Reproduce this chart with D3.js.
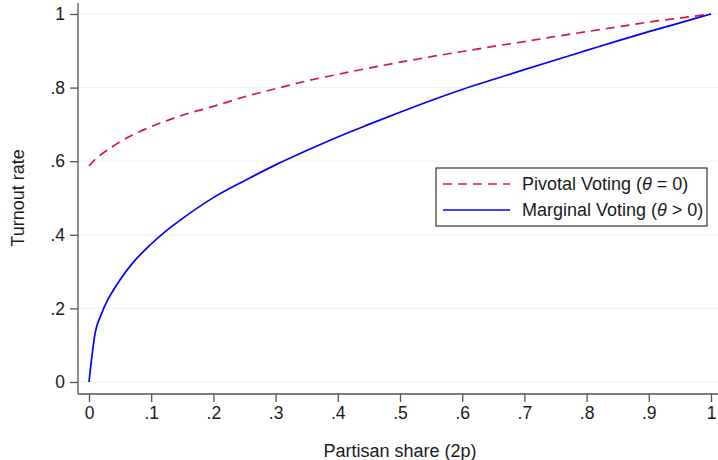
<!DOCTYPE html>
<html>
<head>
<meta charset="utf-8">
<script src="https://cdn.jsdelivr.net/npm/d3@7"></script>
<style>
  body { margin: 0; background: #fff; }
  text { font-family: "Liberation Sans", Arial, sans-serif; fill: #1a1a1a; }
</style>
</head>
<body>
<div id="chart"></div>
<script>
// values
let share = [0, .01, .02, .03, .04, .05, .07, .1, .125, .15, .2, .25, .3, .35, .4, .45, .5, .55, .6, .65, .7, .75, .8, .85, .9, .95, 1]
let pivotal = [.587, .605, .619, .631, .642, .653, .671, .694, .710, .725, .749, .775, .797, .818, .836, .853, .869, .884, .898, .912, .925, .939, .952, .965, .978, .989, 1]
let marginal = [0, .134, .185, .223, .252, .278, .323, .375, .412, .444, .501, .547, .590, .629, .666, .700, .733, .765, .795, .822, .849, .875, .901, .927, .952, .976, 1]
let xTicks = [0, .1, .2, .3, .4, .5, .6, .7, .8, .9, 1]
let yTicks = [0, .2, .4, .6, .8, 1]
let legendLabels = ['Pivotal Voting (', 'Marginal Voting (']
let legendTails = [' = 0)', ' > 0)']

let width = 718, height = 460
let svg = d3.select('#chart').append('svg')
    .attr('width', width)
    .attr('height', height)

let x = d3.scaleLinear().domain([0, 1]).range([89, 711])
let y = d3.scaleLinear().domain([0, 1]).range([382, 14])

let fmt = d => d === 0 ? '0' : d === 1 ? '1' : d3.format('.1f')(d).replace(/^0/, '')

// gridlines
svg.append('g').selectAll('line')
    .data(yTicks)
    .join('line')
    .attr('x1', 78).attr('x2', width)
    .attr('y1', d => y(d)).attr('y2', d => y(d))
    .style('stroke', '#eaf3f3')
    .style('stroke-width', 1)

// y axis
let yAxis = svg.append('g')
    .attr('transform', 'translate(78,0)')
    .call(d3.axisLeft(y).tickValues(yTicks).tickFormat(fmt).tickSize(8).tickPadding(5))
yAxis.select('.domain').attr('d', 'M0,3V394').style('stroke', '#555').style('stroke-width', 1.3)
yAxis.selectAll('.tick line').style('stroke', '#555').style('stroke-width', 1.3)
yAxis.selectAll('.tick text').style('font-size', '17.5px').style('fill', '#1a1a1a')
    .style('font-family', '"Liberation Sans", Arial, sans-serif')

// x axis
let xAxis = svg.append('g')
    .attr('transform', 'translate(0,394)')
    .call(d3.axisBottom(x).tickValues(xTicks).tickFormat(fmt).tickSize(8).tickPadding(5))
xAxis.select('.domain').attr('d', 'M78,0H' + width).style('stroke', '#555').style('stroke-width', 1.3)
xAxis.selectAll('.tick line').style('stroke', '#555').style('stroke-width', 1.3)
xAxis.selectAll('.tick text').style('font-size', '17.5px').style('fill', '#1a1a1a')
    .style('font-family', '"Liberation Sans", Arial, sans-serif')

// axis titles
svg.append('text')
    .attr('transform', 'translate(24, 198) rotate(-90)')
    .text('Turnout rate')
    .style('font-size', '18px')
    .style('text-anchor', 'middle')

svg.append('text')
    .attr('transform', 'translate(400, 457)')
    .text('Partisan share (2p)')
    .style('font-size', '18px')
    .style('text-anchor', 'middle')

// curves
let line = d3.line()
    .x((d, i) => x(share[i]))
    .y(d => y(d))
    .curve(d3.curveMonotoneX)

svg.append('path')
    .datum(pivotal)
    .attr('d', line)
    .attr('fill', 'none')
    .style('stroke', '#d4184a')
    .style('stroke-width', 1.7)
    .style('stroke-dasharray', '9,6')

svg.append('path')
    .datum(marginal)
    .attr('d', line)
    .attr('fill', 'none')
    .style('stroke', '#0000ff')
    .style('stroke-width', 1.7)

// legend
let legend = svg.append('g').attr('transform', 'translate(436, 168)')
legend.append('rect')
    .attr('width', 271)
    .attr('height', 58)
    .attr('fill', '#fff')
    .style('stroke', '#333')
    .style('stroke-width', 1.2)

let styles = [{ c: '#d4184a', dash: '9,6' }, { c: '#0000ff', dash: null }]
legendLabels.forEach((lab, i) => {
    let row = legend.append('g').attr('transform', 'translate(0,' + (16 + i * 26) + ')')
    row.append('line')
        .attr('x1', 7).attr('x2', 74)
        .attr('y1', 0).attr('y2', 0)
        .style('stroke', styles[i].c)
        .style('stroke-width', 1.7)
        .style('stroke-dasharray', styles[i].dash)
    let t = row.append('text')
        .attr('x', 86).attr('y', 6)
        .style('font-size', '18px')
    t.append('tspan').text(lab)
    t.append('tspan').text('θ').style('font-style', 'italic')
    t.append('tspan').text(legendTails[i])
})
</script>
</body>
</html>
